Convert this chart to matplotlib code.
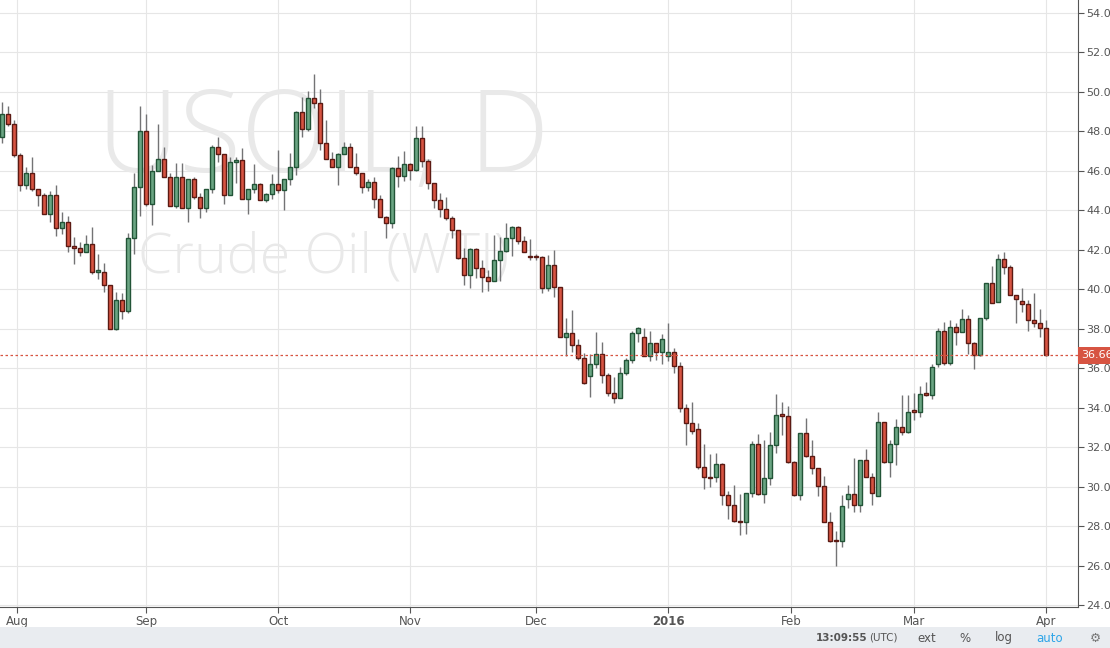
import matplotlib
matplotlib.use("Agg")
import matplotlib.pyplot as plt
import numpy as np

opens = [47.7,48.9,48.4,46.8,45.3,45.9,45.1,44.8,43.8,44.8,43.1,43.4,42.2,42.1,41.9,42.3,40.9,40.9,40.2,38.0,
 39.45,38.9,42.6,45.2,48.0,44.3,46.0,46.6,45.7,44.2,45.7,44.1,45.6,44.7,44.1,45.1,47.2,46.85,44.8,46.45,
 46.55,44.6,45.1,45.35,44.5,44.85,45.35,45.05,45.6,46.2,49.0,48.1,49.7,49.45,47.4,46.6,46.2,46.85,47.2,46.2,
 45.9,45.2,45.45,44.6,43.65,43.35,46.15,45.75,46.35,46.05,47.65,46.5,45.4,44.5,44.05,43.6,43.0,41.6,40.7,42.05,
 41.1,40.6,40.4,41.5,41.95,42.6,43.15,42.45,41.7,41.7,41.65,40.05,41.25,40.1,37.6,37.8,37.2,36.5,35.6,36.2,
 36.7,35.65,34.75,34.5,35.75,36.4,37.8,37.6,36.6,37.3,36.8,36.6,36.8,36.1,34.0,33.2,32.9,31.0,30.5,30.5,31.15,
 29.6,29.05,28.25,28.2,29.7,32.15,29.65,30.45,32.1,33.65,33.6,31.25,29.6,32.7,31.55,30.95,30.05,28.2,27.3,27.25,
 29.35,29.65,29.05,31.35,30.5,29.55,33.3,31.25,32.15,33.0,32.75,33.85,33.8,34.75,34.65,36.2,37.9,36.25,38.1,37.85,
 38.5,37.3,36.65,38.55,40.3,39.35,41.55,41.15,39.7,39.4,39.25,38.45,38.3,38.05]
closes = [48.9,48.4,46.8,45.3,45.9,45.1,44.8,43.8,44.8,43.1,43.4,42.2,42.1,41.9,42.3,40.9,40.95,40.2,38.0,39.45,
 38.9,42.6,45.2,48.0,44.3,46.0,46.6,45.7,44.2,45.7,44.1,45.6,44.7,44.1,45.1,47.2,46.85,44.8,46.45,46.55,
 44.6,45.1,45.35,44.5,44.85,45.35,45.05,45.6,46.2,49.0,48.1,49.7,49.45,47.4,46.6,46.2,46.85,47.2,46.2,45.9,
 45.2,45.45,44.6,43.65,43.35,46.15,45.75,46.35,46.05,47.65,46.5,45.4,44.5,44.05,43.6,43.0,41.6,40.7,42.05,41.1,
 40.6,40.4,41.5,41.95,42.6,43.15,42.45,41.9,41.65,41.65,40.05,41.25,40.1,37.6,37.8,37.2,36.5,35.25,36.2,36.7,
 35.65,34.75,34.5,35.75,36.4,37.8,38.05,36.6,37.3,36.8,37.5,36.8,36.1,34.0,33.2,32.8,31.0,30.5,30.45,31.15,29.6,
 29.05,28.25,28.2,29.7,32.15,29.65,30.45,32.1,33.65,33.6,31.25,29.6,32.7,31.55,30.95,30.05,28.2,27.25,27.25,29.0,
 29.65,29.05,31.35,30.5,29.7,33.3,31.25,32.15,33.0,32.75,33.8,33.8,34.7,34.65,36.05,37.9,36.25,38.1,37.85,38.5,
 37.3,36.65,38.55,40.3,39.3,41.55,41.15,39.7,39.5,39.25,38.45,38.3,38.05,36.66]
highs = [49.5,49.3,48.6,46.9,46.2,46.7,45.1,44.9,45.0,45.3,43.9,43.7,42.65,42.4,42.75,43.15,41.8,41.35,40.2,39.85,
 39.8,42.85,45.9,49.3,48.9,46.3,48.4,47.2,45.9,46.4,46.4,45.6,45.7,44.9,45.1,47.3,47.7,46.85,46.7,46.7,
 47.15,45.1,46.35,45.4,44.9,45.85,47.05,45.6,46.9,49.05,49.75,50.05,50.9,50.15,48.6,46.95,46.9,47.45,47.4,46.9,
 45.9,45.6,45.7,44.8,43.7,46.2,46.75,47.0,46.4,48.3,48.3,46.6,45.4,44.9,44.7,43.7,43.0,42.1,42.1,42.1,
 41.5,41.0,42.75,42.65,43.35,43.2,43.2,42.7,42.55,41.8,41.7,41.75,42.0,40.1,38.55,38.95,37.5,36.75,36.7,37.85,
 37.35,35.75,35.55,36.05,36.5,37.9,38.1,38.05,37.9,37.3,37.75,38.3,37.05,36.3,34.2,34.3,33.2,32.15,31.65,31.7,31.2,
 29.8,30.1,29.65,29.7,32.3,32.65,32.35,32.75,34.7,34.3,34.1,31.3,32.7,33.5,32.35,30.95,30.55,28.7,27.75,29.6,
 30.1,31.45,31.35,31.9,30.7,33.8,33.3,32.35,33.45,34.65,34.65,34.75,35.1,35.3,36.2,38.05,38.35,38.45,38.3,39.0,
 38.7,37.35,38.55,40.3,41.2,41.8,41.9,41.25,39.7,40.05,39.45,39.8,39.0,38.45]
lows = [47.4,48.3,46.7,45.0,45.1,45.0,44.2,43.8,43.4,42.7,42.8,41.9,41.3,41.7,41.9,40.8,40.5,39.85,38.0,37.95,
 38.5,38.8,41.8,43.7,44.2,43.25,46.0,45.7,44.2,44.1,44.1,43.4,44.6,43.6,43.9,44.9,46.45,44.3,44.8,45.4,
 44.6,43.8,44.9,44.5,44.4,44.6,44.9,44.0,45.3,45.8,47.7,48.0,49.2,47.05,46.6,46.2,45.3,46.85,46.2,45.8,
 44.9,45.0,44.1,43.65,42.6,43.1,45.2,45.5,45.55,46.0,46.2,45.1,44.1,43.65,43.5,42.6,41.55,40.2,40.05,40.55,
 39.85,39.9,40.4,40.4,41.9,41.7,42.3,41.9,41.5,41.5,39.8,39.9,39.6,37.6,36.6,36.8,36.4,35.2,34.55,36.0,
 35.25,34.6,34.25,34.5,35.65,36.25,37.35,36.6,36.35,36.4,36.2,36.35,35.75,33.8,32.1,32.65,30.9,29.9,30.0,30.25,29.05,
 28.35,28.2,27.55,27.6,29.45,29.6,29.15,30.1,31.7,32.6,31.2,29.55,29.3,31.5,30.65,29.5,28.2,27.2,26.0,26.95,
 28.9,28.7,28.7,30.5,29.05,29.5,31.2,30.5,31.1,32.6,32.7,33.4,33.55,34.6,34.45,36.05,36.15,36.15,37.2,37.85,
 36.7,35.95,36.6,38.45,39.3,39.35,40.75,39.7,38.3,38.85,37.9,38.1,37.6,36.6]

month_labels = ["Aug","Sep","Oct","Nov","Dec","2016","Feb","Mar","Apr"]
month_pos = [2.5, 24, 46, 68, 89, 111, 131.5, 152, 174]
y_ticks = list(range(24, 55, 2))
last_price = 36.66

n = len(closes)
x = np.arange(n)
o = np.array(opens); c = np.array(closes); h = np.array(highs); l = np.array(lows)

fig = plt.figure(figsize=(11.1, 6.48), dpi=100)
ax = fig.add_axes([0, 41/648, 1078/1110, 1 - 41/648])
ax.set_xlim(-0.35, 179.3)
ax.set_ylim(23.9, 54.66)

for yv in y_ticks:
    ax.axhline(yv, color="#e6e6e6", lw=0.8, zorder=0)
for mp in month_pos:
    ax.axvline(mp, color="#e6e6e6", lw=0.8, zorder=0)

ax.text(0.30, 0.765, "USOIL, D", transform=ax.transAxes, fontsize=82, color="#e9e9e9",
        ha="center", va="center", zorder=0.5, family="Open Sans", fontweight="light")
ax.text(0.30, 0.575, "Crude Oil (WTI)", transform=ax.transAxes, fontsize=40, color="#e9e9e9",
        ha="center", va="center", zorder=0.5, family="Open Sans", fontweight="light")

up = c >= o
ax.vlines(x, l, h, color="#737375", lw=1, zorder=2)
bottoms = np.minimum(o, c)
heights = np.maximum(np.abs(c - o), 0.06)
ax.bar(x[up], heights[up], bottom=bottoms[up], width=0.68, color="#6ba583", edgecolor="#225437", lw=1, zorder=3)
ax.bar(x[~up], heights[~up], bottom=bottoms[~up], width=0.68, color="#d75442", edgecolor="#5b1a13", lw=1, zorder=3)

ax.axhline(last_price, color="#d75442", lw=0.9, ls=(0, (2, 2)), zorder=4)

ax.yaxis.tick_right()
ax.set_yticks(y_ticks)
ax.set_yticklabels([f"{v:.2f}" for v in y_ticks])
ax.tick_params(axis="y", length=4, color="#555555", labelcolor="#555555", labelsize=8, pad=2)
ax.set_xticks(month_pos)
ax.set_xticklabels(month_labels)
ax.tick_params(axis="x", length=4, color="#555555", labelcolor="#555555", labelsize=8.5, pad=2)
for lab in ax.get_xticklabels():
    if lab.get_text() == "2016":
        lab.set_fontweight("bold")
for s in ["top", "left"]:
    ax.spines[s].set_visible(False)
ax.spines["right"].set_color("#555555")
ax.spines["bottom"].set_color("#555555")

ax.text(1.003, last_price, f"{last_price:.2f}", transform=ax.get_yaxis_transform(), fontsize=8,
        color="white", va="center", ha="left",
        bbox=dict(boxstyle="square,pad=0.3", fc="#d75442", ec="none"), zorder=10, clip_on=False)

fig.patches.append(plt.Rectangle((0, 0), 1, 21/648, transform=fig.transFigure, fc="#e9ecf0", ec="none", zorder=0))
ty = 10/648
fig.text(816/1110, ty, "13:09:55", fontsize=7.5, color="#555555", ha="left", va="center", fontweight="bold")
fig.text(869/1110, ty, "(UTC)", fontsize=7.5, color="#555555", ha="left", va="center")
for t, px, col in [("ext", 927, "#555555"), ("%", 965, "#555555"), ("log", 1004, "#555555"), ("auto", 1050, "#2ea5e8")]:
    fig.text(px/1110, ty, t, fontsize=8.5, color=col, ha="center", va="center")
fig.text(1095/1110, ty, "⚙", fontsize=9, color="#777777", ha="center", va="center")

fig.savefig("out.png", dpi=100)
